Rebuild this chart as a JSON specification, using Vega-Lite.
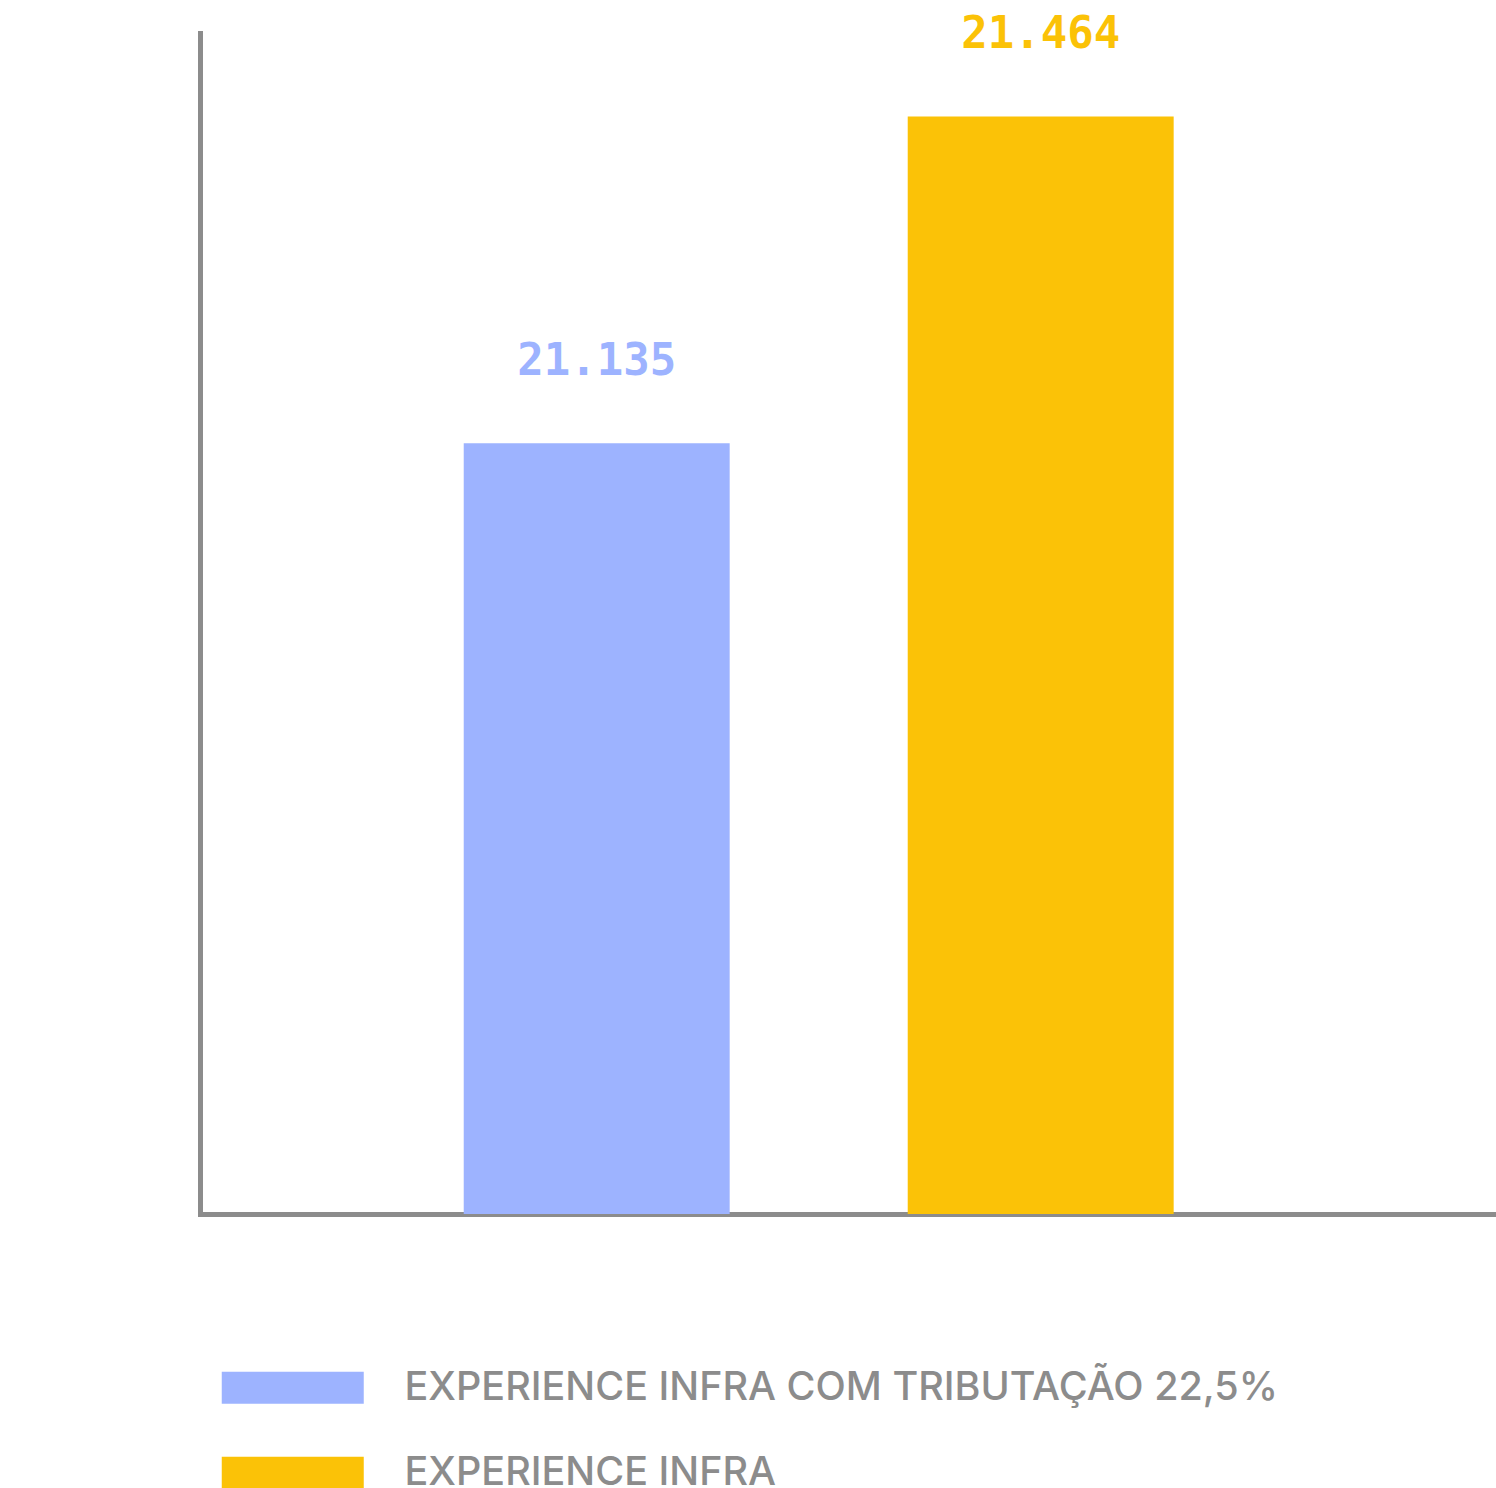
{
  "$schema": "https://vega.github.io/schema/vega-lite/v6.json",
  "width": 1296,
  "height": 1181,
  "autosize": {"type": "none"},
  "padding": {"left": 200, "top": 33, "right": 0, "bottom": 274},
  "background": "white",
  "data": {
    "values": [
      {"serie": "EXPERIENCE INFRA COM TRIBUTAÇÃO 22,5%", "valor": 21135},
      {"serie": "EXPERIENCE INFRA", "valor": 21464}
    ]
  },
  "encoding": {
    "x": {
      "field": "serie",
      "type": "nominal",
      "sort": null,
      "scale": {"paddingInner": 0.401, "paddingOuter": 0.66, "align": 0.45},
      "axis": {"title": null, "labels": false, "ticks": false, "domainColor": "#8c8c8c", "domainWidth": 5, "domainCap": "square", "grid": false}
    },
    "y": {
      "field": "valor",
      "type": "quantitative",
      "scale": {"domain": [20359, 21548], "zero": false, "nice": false},
      "axis": {"title": null, "labels": false, "ticks": false, "domainColor": "#8c8c8c", "domainWidth": 5, "domainCap": "square", "grid": false}
    }
  },
  "layer": [
    {
      "mark": {"type": "bar", "clip": true},
      "encoding": {
        "color": {
          "field": "serie",
          "type": "nominal",
          "sort": null,
          "scale": {
            "domain": ["EXPERIENCE INFRA COM TRIBUTAÇÃO 22,5%", "EXPERIENCE INFRA"],
            "range": ["#9db3ff", "#fbc207"]
          },
          "legend": {
            "title": null,
            "orient": "none",
            "legendX": 18,
            "legendY": 1335,
            "symbolType": "M-1,-1H7.875V1H-1Z",
            "symbolSize": 1024,
            "symbolStrokeWidth": 0,
            "symbolOpacity": 1,
            "labelOffset": 147,
            "labelFont": "Inter",
            "labelFontSize": 39.5,
            "labelFontWeight": 500,
            "labelColor": "#8c8c8c",
            "labelLimit": 1300,
            "rowPadding": 44
          }
        }
      }
    },
    {
      "mark": {"type": "text", "baseline": "alphabetic", "dy": -68, "font": "DejaVu Sans Mono", "fontWeight": "bold", "fontSize": 44},
      "encoding": {
        "text": {"field": "valor", "type": "quantitative", "format": ",d"},
        "color": {"field": "serie", "type": "nominal", "sort": null, "legend": null}
      }
    }
  ],
  "config": {
    "view": {"stroke": null},
    "locale": {"number": {"decimal": ",", "thousands": ".", "grouping": [3], "currency": ["R$", ""]}}
  }
}
